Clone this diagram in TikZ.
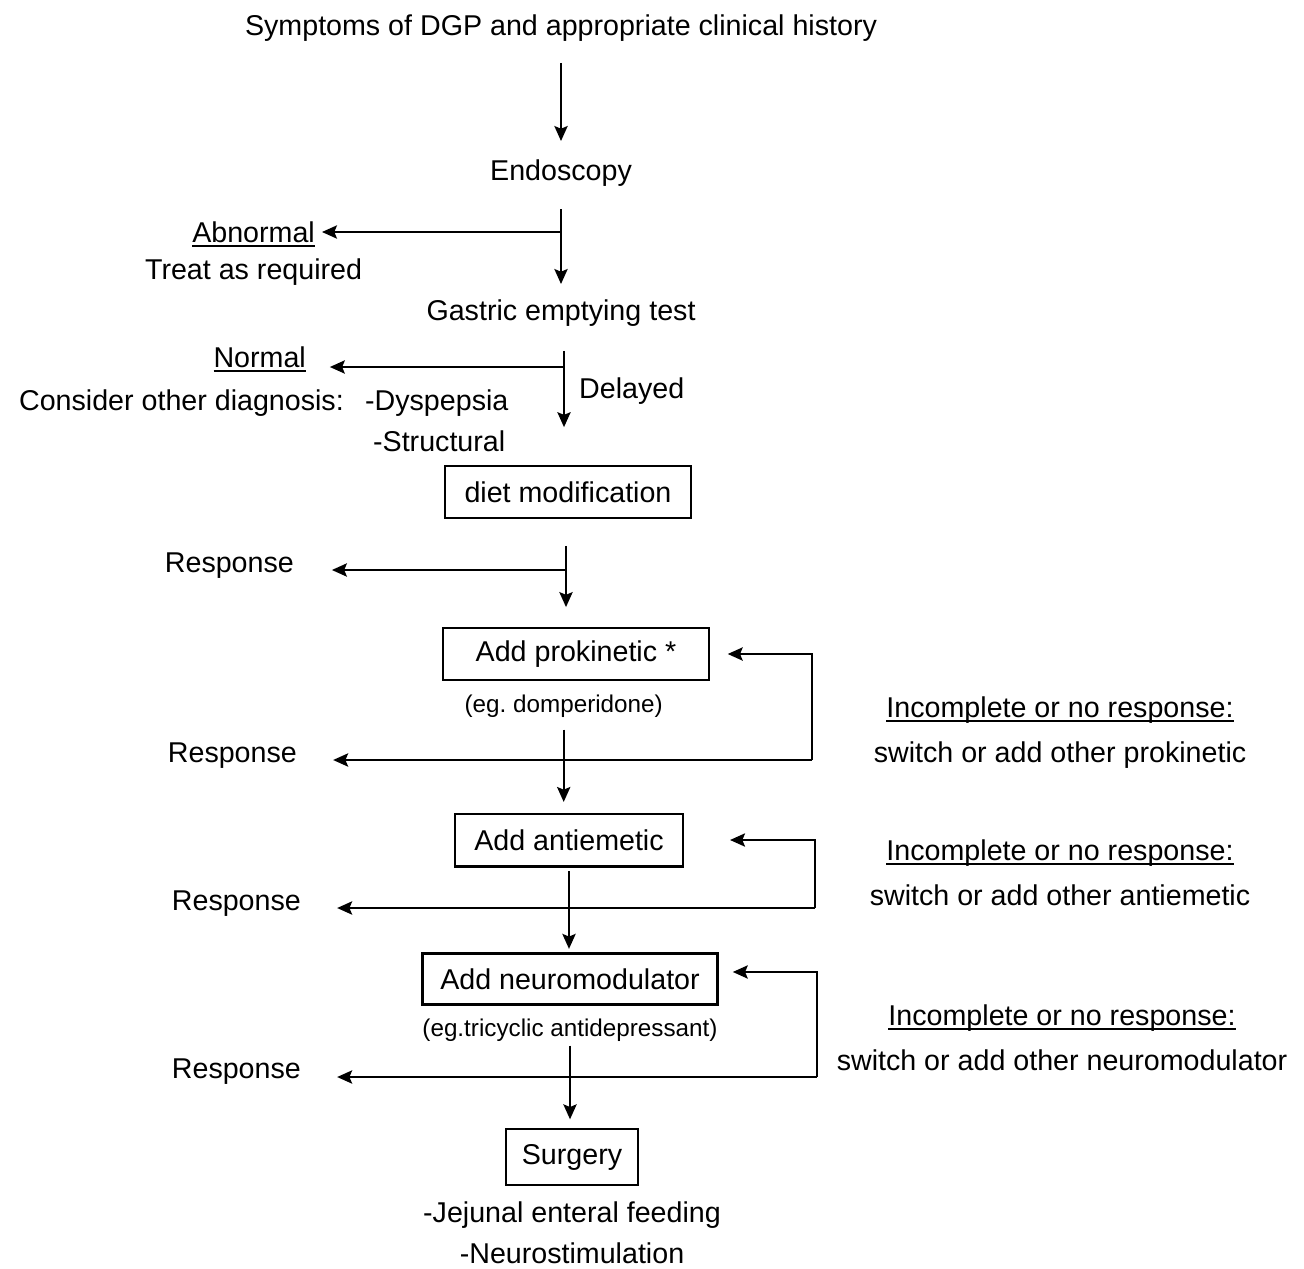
\documentclass[tikz,border=0pt]{standalone}
\usepackage{fontspec}
\setmainfont{Liberation Sans}
\usepackage{tikz}
\usetikzlibrary{arrows,arrows.meta,positioning}
\newcommand{\undl}[1]{\setbox0\hbox{#1}\rlap{\rule[-2.6pt]{\wd0}{1.1pt}}\box0}
\tikzset{
    %Define standard arrow tip
    >={Stealth[length=8.5pt,width=7.5pt,inset=1.5pt]},
    %Define style for plain text
    lbl/.style={
           inner sep=0pt,
           font=\fontsize{16.3}{19}\selectfont,
           text height=12pt,
           text depth=3.5pt},
    note/.style={
           inner sep=0pt,
           font=\fontsize{13.8}{16}\selectfont,
           text height=10pt,
           text depth=3pt},
    %Define style for boxes
    stepbox/.style={
           rectangle,
           draw=black,
           inner sep=0pt,
           minimum height=29.5pt,
           font=\fontsize{16.3}{19}\selectfont,
           text centered}
}

\begin{document}
\begin{tikzpicture}[->,line width=1.3pt,x=0.02cm,y=-0.02cm]
\useasboundingbox (0,0) rectangle (1304,1268);
% main column
\node[lbl](title) at (561,28){Symptoms of DGP and appropriate clinical history};
\node[lbl](endo) at (561,173){Endoscopy};
\node[lbl](gastric) at (561,313){Gastric emptying test};
\node[stepbox,minimum width=140pt](diet) at (568,492){diet modification};
\node[stepbox,minimum width=151pt](prok) at (576,654){Add prokinetic *};
\node[note,below=7.4pt of prok,xshift=-7pt](egdom){(eg.\ domperidone)};
\node[stepbox,minimum width=130pt,minimum height=30pt](anti) at (569,840){Add antiemetic};
\node[stepbox,minimum width=168pt,minimum height=29pt](neuro) at (570,979){Add neuromodulator};
\node[note,below=7pt of neuro](egtri){(eg.tricyclic antidepressant)};
\node[stepbox,minimum width=75pt,minimum height=32pt](surg) at (572,1157){Surgery};
\node[lbl,below=8.2pt of surg](jej){-Jejunal enteral feeding};
\node[lbl,below=6.2pt of jej](stim){-Neurostimulation};
% left side
\node[lbl,anchor=east](abn) at (316,235){\undl{Abnormal}};
\node[lbl,below=4.3pt of abn](treat){Treat as required};
\node[lbl,anchor=east](normal) at (307,360){\undl{Normal}};
\node[lbl,anchor=east](consider) at (345,403){Consider other diagnosis:};
\node[lbl,anchor=west](dysp) at (364,403){-Dyspepsia};
\node[lbl,anchor=west](struct) at (372,444){-Structural};
\node[lbl,anchor=west](delayed) at (578,391){Delayed};
\node[lbl,anchor=east](resp1) at (295,565){Response};
\node[lbl,anchor=east](resp2) at (298,755){Response};
\node[lbl,anchor=east](resp3) at (302,903){Response};
\node[lbl,anchor=east](resp4) at (302,1071){Response};
% right side
\node[lbl](inc1) at (1060,710){\undl{Incomplete or no response:}};
\node[lbl,below=9pt of inc1](sw1){switch or add other prokinetic};
\node[lbl](inc2) at (1060,853){\undl{Incomplete or no response:}};
\node[lbl,below=9pt of inc2](sw2){switch or add other antiemetic};
\node[lbl](inc3) at (1062,1018){\undl{Incomplete or no response:}};
\node[lbl,below=9pt of inc3](sw3){switch or add other neuromodulator};
% branch points
\coordinate (j1) at (561,232);
\coordinate (j2) at (564,367);
\coordinate (j3) at (566,570);
\coordinate (c1) at (812,760);
\coordinate (c2) at (815,908);
\coordinate (c3) at (817,1077);
% connectors
\draw[shorten <=11.5pt,shorten >=9.8pt] (title) -- (endo);
\draw[shorten <=12.1pt,shorten >=8.1pt] (endo) -- (gastric);
\draw[shorten >=3.4pt] (j1) -- (abn.east |- j1);
\draw[shorten <=13.2pt,shorten >=21.5pt] (gastric.south -| j2) -- (diet.north -| j2);
\draw[shorten >=13pt] (j2) -- (normal.east |- j2);
\draw[shorten <=15.3pt,shorten >=11.3pt] (diet.south -| j3) -- (prok.north -| j3);
\draw[shorten >=21pt] (j3) -- (resp1.east |- j3);
\draw[shorten <=6pt,shorten >=6pt] (egdom.south) -- (egdom.south |- anti.north);
\draw[shorten >=20pt] (c1) -- (resp2.east |- c1);
\draw[shorten >=10.2pt] (c1) |- (prok.east);
\draw[shorten <=2pt,shorten >=2pt] (anti.south) -- (anti.south |- neuro.north);
\draw[shorten >=20pt] (c2) -- (resp3.east |- c2);
\draw[shorten >=26pt] (c2) |- (anti.east);
\draw[shorten <=1.4pt,shorten >=4.8pt] (egtri.south) -- (egtri.south |- surg.north);
\draw[shorten >=20pt] (c3) -- (resp4.east |- c3);
\draw[shorten >=8pt] (c3) |- ([yshift=4pt]neuro.east);
\end{tikzpicture}
\end{document}
